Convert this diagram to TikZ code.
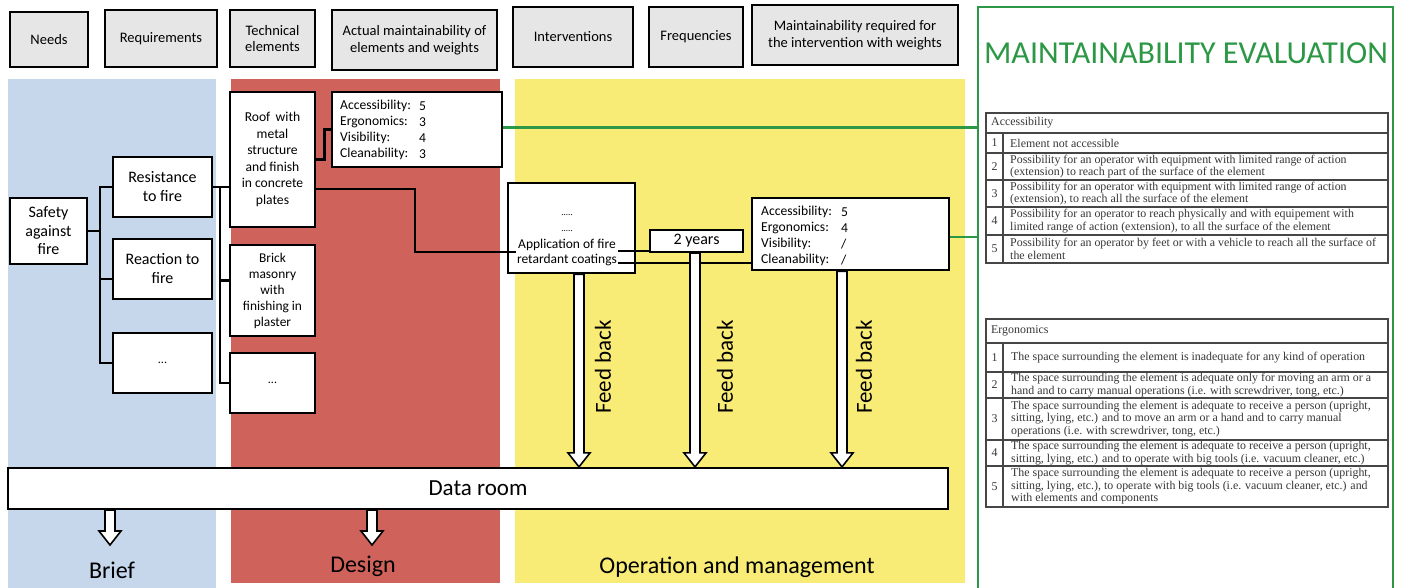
\documentclass[tikz,border=0pt]{standalone}
\usepackage{fontspec}
\setmainfont{Carlito}
\newfontfamily\tabfont{Liberation Serif}
\usetikzlibrary{calc}

\definecolor{briefblue}{RGB}{198,215,235}
\definecolor{designred}{RGB}{207,98,90}
\definecolor{opyellow}{RGB}{248,236,118}
\definecolor{evalgreen}{RGB}{44,152,70}
\definecolor{hdrgray}{RGB}{230,230,230}
\definecolor{tabline}{RGB}{70,70,70}
\definecolor{tabtext}{RGB}{55,55,55}

\newcommand{\fsz}[2]{\fontsize{#1}{#2}\selectfont}

% hollow block arrow running straight down from #1 to #2
\newcommand{\hollowarrow}[2]{%
  \draw[hollow] let \p1=(#1), \p2=(#2) in
    (\x1-5pt,\y1) -- (\x1-5pt,\y2+14pt) -- (\x1-11pt,\y2+14pt) -- (\x1,\y2)
    -- (\x1+11pt,\y2+14pt) -- (\x1+5pt,\y2+14pt) -- (\x1+5pt,\y1) -- cycle;}

\tikzset{
  hdr/.style={draw, line width=2.6pt, fill=hdrgray, align=center, inner sep=1pt,
              font=\fsz{14.5}{16.5}},
  box/.style={draw, line width=2.6pt, fill=white, align=center, inner sep=1pt},
  conn/.style={line width=2.4pt, black},
  gconn/.style={line width=2.4pt, evalgreen},
  hollow/.style={draw=black, line width=1.6pt, fill=white, line join=miter},
  phase/.style={font=\fsz{24}{28}},
  fb/.style={rotate=90, font=\fsz{23}{26}},
  tabrule/.style={draw=tabline, line width=1.3pt},
  tt/.style={anchor=west, inner sep=0pt, align=left, text=tabtext,
             font=\tabfont\fsz{11.9}{12.6}},
  tn/.style={inner sep=0pt, text=tabtext, font=\tabfont\fsz{11.9}{12.6}},
  score/.style={anchor=west, inner sep=0pt, align=left, font=\fsz{13.6}{16}}
}

\begin{document}
\begin{tikzpicture}[x=1pt, y=-1pt]
\useasboundingbox (0,0) rectangle (1402,588);
\fill[white] (0,0) rectangle (1402,588);

% phase backgrounds
\fill[briefblue] (8,79) rectangle (216,590);
\fill[designred] (231,79) rectangle (500,583);
\fill[opyellow] (515,79) rectangle (965,583);

% evaluation panel
\node[draw=evalgreen, line width=2.6pt, minimum width=415, minimum height=600,
      inner sep=0pt] (eval) at (1185.5,307) {};
\node[text=evalgreen, font=\fsz{32}{36}] (evaltitle) at (1186,53) {MAINTAINABILITY EVALUATION};

% column headers
\node[hdr, minimum width=78,  minimum height=55] (hneeds) at (49,39.5)   {Needs};
\node[hdr, minimum width=112, minimum height=57] (hreq)   at (161,38.5)  {Requirements};
\node[hdr, minimum width=85,  minimum height=57] (htech)  at (272.5,38.5){Technical\\elements};
\node[hdr, minimum width=165, minimum height=60] (hact)   at (414.5,40)  {Actual maintainability of\\elements and weights};
\node[hdr, minimum width=120, minimum height=60] (hint)   at (573,37)    {Interventions};
\node[hdr, minimum width=94,  minimum height=60] (hfreq)  at (696,37)    {Frequencies};
\node[hdr, minimum width=206, minimum height=60] (hmreq)  at (855,35)    {Maintainability required for\\the intervention with weights};

% needs and requirements
\node[box, minimum width=77, minimum height=66, font=\fsz{16}{18.5}] (safety) at (48.5,231) {Safety\\against\\fire};
\node[box, minimum width=99, minimum height=60, font=\fsz{16}{19}] (resist) at (162.5,187) {Resistance\\to fire};
\node[box, minimum width=99, minimum height=60, font=\fsz{16}{19}] (react)  at (162.5,269) {Reaction to\\fire};
\node[box, minimum width=99, minimum height=60, font=\fsz{12}{13}] (dotsA) at (162.5,363) {...};

% technical elements
\node[box, minimum width=85, minimum height=135, font=\fsz{13.6}{16.5}] (roof) at (272.5,159.5)
  {Roof\, with\\metal\\structure\\and finish\\in concrete\\plates};
\node[box, minimum width=85, minimum height=91, font=\fsz{13.4}{16}] (brick) at (272.5,290.5)
  {Brick\\masonry\\with\\finishing in\\plaster};
\node[box, minimum width=85, minimum height=60, font=\fsz{12}{13}] (dotsB) at (272.5,383) {...};

% actual maintainability of the roof
\node[box, minimum width=170, minimum height=75] (accA) at (417,129.5) {};
\node[score] (accAl) at (340,130) {Accessibility:\\Ergonomics:\\Visibility:\\Cleanability:};
\node[score] (accAv) at (419,130) {5\\3\\4\\3};

% intervention, frequency, required maintainability
\node[box, minimum width=127, minimum height=90] (int) at (571.5,228) {};
\node[font=\fsz{9}{10}, inner sep=0pt] (intdotsA) at (567,215) {.....};
\node[font=\fsz{9}{10}, inner sep=0pt] (intdotsB) at (567,231) {.....};
\node[font=\fsz{13.5}{15}, inner sep=1pt, align=center] (app) at (567,252) {Application of fire\\retardant coatings};
\node[draw, line width=2.2pt, fill=white, minimum width=93, minimum height=22, inner sep=0pt,
      font=\fsz{16}{18}] (yrs) at (696.5,241) {2 years};
\node[box, minimum width=197, minimum height=72] (accB) at (850.5,234) {};
\node[score] (accBl) at (761,236) {Accessibility:\\Ergonomics:\\Visibility:\\Cleanability:};
\node[score] (accBv) at (841,236) {5\\4\\/\\/};

% data room
\node[box, line width=2.2pt, minimum width=940, minimum height=41, font=\fsz{23}{26}] (data) at (478,488.5) {Data room};

% tree connectors
\coordinate (trunkA) at (100,0);
\coordinate (trunkB) at (220,0);
\draw[conn] (safety.east) -- (safety.east -| trunkA);
\draw[conn] (resist.west) -- (resist.west -| trunkA) -- (dotsA.west -| trunkA) -- (dotsA.west);
\draw[conn] ([yshift=-10pt]react.west) -- ([yshift=-10pt]react.west -| trunkA);
\draw[conn] (resist.east) -- (resist.east -| roof.west);
\draw[conn] (resist.east -| trunkB) -- (dotsB.west -| trunkB) -- (dotsB.west);
\draw[conn] ([yshift=10pt]brick.west) -- ([yshift=10pt]brick.west -| trunkB);

% roof to its scores and to the intervention
\draw[conn] (roof.east) -- ++(8,0) |- (accA.west);
\coordinate (bend) at (415,0);
\draw[conn] ([yshift=-29.5pt]roof.east) -- ([yshift=-29.5pt]roof.east -| bend) |- (app.west);
\draw[conn] ([yshift=1pt]app.east) -- ([yshift=1pt]app.east -| yrs.west);
\draw[conn] ([yshift=-11pt]app.east) -- ([yshift=-11pt]app.east -| accB.west);

% links to the evaluation panel
\draw[gconn] ([yshift=2pt]accA.east) -- ([yshift=2pt]accA.east -| eval.west);
\draw[gconn] ([yshift=-3pt]accB.east) -- ([yshift=-3pt]accB.east -| eval.west);

% feedback arrows into the data room
\coordinate (fbA) at (579,0);
\coordinate (fbB) at (695,0);
\coordinate (fbC) at (842,0);
\hollowarrow{int.south -| fbA}{data.north -| fbA}
\hollowarrow{yrs.south -| fbB}{data.north -| fbB}
\hollowarrow{accB.south -| fbC}{data.north -| fbC}
\node[fb] (fblA) at (603,367) {Feed back};
\node[fb] (fblB) at (725,367) {Feed back};
\node[fb] (fblC) at (864,367) {Feed back};

% data room output arrows
\coordinate (briefend) at (110,545);
\coordinate (designend) at (372,545);
\hollowarrow{data.south -| briefend}{briefend}
\hollowarrow{data.south -| designend}{designend}

% phase names
\node[phase] (brief)  at (112,570) {Brief};
\node[phase] (design) at (363,566) {Design};
\node[phase] (opman)  at (737,567) {Operation and management};

% accessibility scale
\fill[white] (986,113) rectangle (1388,263);
\draw[tabrule] (986,113) rectangle (1388,263);
\foreach \yy in {133,153,180,207,235} \draw[tabrule] (986,\yy) -- (1388,\yy);
\draw[tabrule] (1003,133) -- (1003,263);
\node[tt] (acch) at (991,123) {Accessibility};
\node[tn] (acc1n) at (994.5,143) {1};
\node[tn] (acc2n) at (994.5,166.5) {2};
\node[tn] (acc3n) at (994.5,193.5) {3};
\node[tn] (acc4n) at (994.5,221) {4};
\node[tn] (acc5n) at (994.5,249) {5};
\node[tt] (acc1t) at (1010,143) {Element not accessible};
\node[tt] (acc2t) at (1010,166.5) {Possibility for an operator with equipment with limited range of action\\(extension) to reach part of the surface of the element};
\node[tt] (acc3t) at (1010,193.5) {Possibility for an operator with equipment with limited range of action\\(extension), to reach all the surface of the element};
\node[tt] (acc4t) at (1010,221) {Possibility for an operator to reach physically and with equipement with\\limited range of action (extension), to all the surface of the element};
\node[tt] (acc5t) at (1010,249) {Possibility for an operator by feet or with a vehicle to reach all the surface of\\the element};

% ergonomics scale
\fill[white] (986,319) rectangle (1388,507);
\draw[tabrule] (986,319) rectangle (1388,507);
\foreach \yy in {343,372,398,440,466} \draw[tabrule] (986,\yy) -- (1388,\yy);
\draw[tabrule] (1003,343) -- (1003,507);
\node[tt] (ergh) at (991,331) {Ergonomics};
\node[tn] (erg1n) at (994.5,357.5) {1};
\node[tn] (erg2n) at (994.5,385) {2};
\node[tn] (erg3n) at (994.5,419) {3};
\node[tn] (erg4n) at (994.5,453) {4};
\node[tn] (erg5n) at (994.5,486.5) {5};
\node[tt] (erg1t) at (1011,357.5) {The space surrounding the element is inadequate for any kind of operation};
\node[tt] (erg2t) at (1011,385) {The space surrounding the element is adequate only for moving an arm or a\\hand and to carry manual operations (i.e. with screwdriver, tong, etc.)};
\node[tt] (erg3t) at (1011,419) {The space surrounding the element is adequate to receive a person (upright,\\sitting, lying, etc.) and to move an arm or a hand and to carry manual\\operations (i.e. with screwdriver, tong, etc.)};
\node[tt] (erg4t) at (1011,453) {The space surrounding the element is adequate to receive a person (upright,\\sitting, lying, etc.) and to operate with big tools (i.e. vacuum cleaner, etc.)};
\node[tt] (erg5t) at (1011,486.5) {The space surrounding the element is adequate to receive a person (upright,\\sitting, lying, etc.), to operate with big tools (i.e. vacuum cleaner, etc.) and\\with elements and components};
\end{tikzpicture}
\end{document}
